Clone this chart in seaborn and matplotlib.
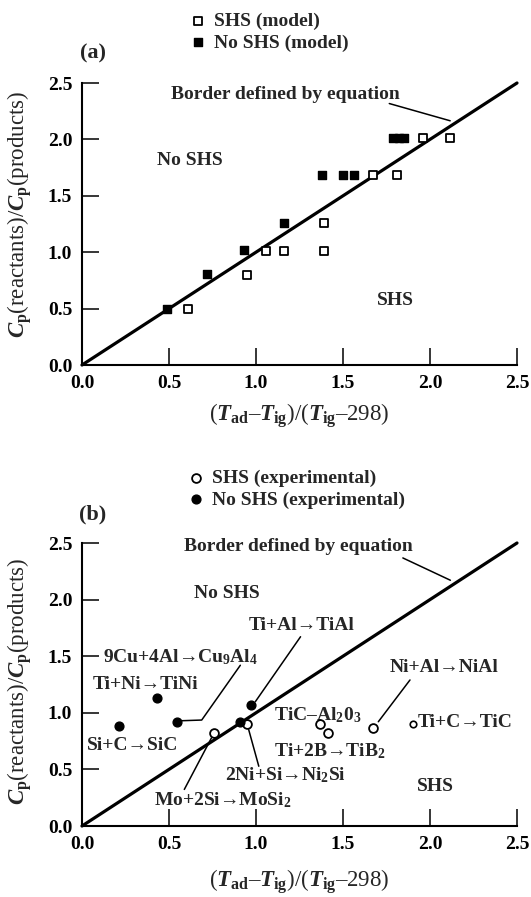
import matplotlib
matplotlib.use("Agg")
import matplotlib.pyplot as plt
import seaborn as sns

# ---------------- data ----------------
ticks = [0.0, 0.5, 1.0, 1.5, 2.0, 2.5]
tick_labels = ["0.0", "0.5", "1.0", "1.5", "2.0", "2.5"]
border_x = [0.0, 2.5]
border_y = [0.0, 2.5]

# panel (a): model
a_shs_x = [0.61, 0.95, 1.06, 1.16, 1.39, 1.39, 1.675, 1.81, 1.96, 2.115]
a_shs_y = [0.50, 0.80, 1.01, 1.01, 1.01, 1.26, 1.68, 1.68, 2.01, 2.01]
a_no_x = [0.49, 0.72, 0.93, 1.16, 1.38, 1.50, 1.565, 1.79, 1.82, 1.85]
a_no_y = [0.50, 0.81, 1.02, 1.26, 1.68, 1.68, 1.68, 2.01, 2.01, 2.01]

# panel (b): experimental
b_shs_x = [0.76, 0.95, 1.37, 1.415, 1.675]
b_shs_y = [0.82, 0.90, 0.905, 0.825, 0.865]
b_tic_x = [1.90]          # Ti+C -> TiC (small open circle)
b_tic_y = [0.905]
b_no_x = [0.21, 0.43, 0.545, 0.91, 0.97]
b_no_y = [0.885, 1.135, 0.92, 0.92, 1.07]

# annotation texts: (text, x, y, ha)
a_texts = [
    ("Border defined by equation", 1.17, 2.40, "center"),
    ("No SHS", 0.62, 1.81, "center"),
    ("SHS", 1.80, 0.57, "center"),
]
a_leaders = [([1.766, 2.116], [2.318, 2.165])]

b_texts = [
    ("Border defined by equation", 1.245, 2.465, "center"),
    ("No SHS", 0.83, 2.054, "center"),
    ("SHS", 2.03, 0.352, "center"),
    ("Ti+Al→TiAl", 1.26, 1.775, "center"),
    (r"9Cu+4Al→Cu$_{\mathbf{9}}$Al$_{\mathbf{4}}$", 0.12, 1.49, "left"),
    ("Ti+Ni→TiNi", 0.062, 1.247, "left"),
    ("Si+C→SiC", 0.029, 0.71, "left"),
    ("Ni+Al→NiAl", 1.766, 1.40, "left"),
    (r"TiC–Al$_{\mathbf{2}}$0$_{\mathbf{3}}$", 1.104, 0.98, "left"),
    ("Ti+C→TiC", 1.931, 0.91, "left"),
    (r"Ti+2B→TiB$_{\mathbf{2}}$", 1.104, 0.66, "left"),
    (r"2Ni+Si→Ni$_{\mathbf{2}}$Si", 0.822, 0.45, "left"),
    (r"Mo+2Si→MoSi$_{\mathbf{2}}$", 0.413, 0.23, "left"),
]
b_leaders = [
    ([1.844, 2.117], [2.368, 2.171]),
    ([1.256, 0.997], [1.672, 1.100]),
    ([0.573, 0.688, 0.91], [0.930, 0.936, 1.42]),
    ([1.885, 1.703], [1.290, 0.921]),
    ([0.958, 1.016], [0.851, 0.528]),
    ([0.744, 0.588], [0.778, 0.323]),
]

# ---------------- style ----------------
sns.set_style("ticks")
plt.rcParams["font.family"] = ["Liberation Serif", "DejaVu Serif"]
plt.rcParams["font.weight"] = "bold"
plt.rcParams["mathtext.fontset"] = "custom"
plt.rcParams["mathtext.rm"] = "Liberation Serif:bold"
plt.rcParams["mathtext.it"] = "Liberation Serif:italic:bold"
plt.rcParams["mathtext.bf"] = "Liberation Serif:bold"

FS = 14
LFS = 16.5
W, H = 531, 897
fig = plt.figure(figsize=(W / 100, H / 100), dpi=100)

ax_a = fig.add_axes([82 / W, 1 - 365 / H, 435 / W, 282 / H])
ax_b = fig.add_axes([82 / W, 1 - 826 / H, 435 / W, 283 / H])


def style_axes(ax):
    ax.set_xlim(0, 2.5)
    ax.set_ylim(0, 2.5)
    ax.set_xticks(ticks)
    ax.set_yticks(ticks)
    ax.set_xticklabels(tick_labels, fontweight="bold")
    ax.set_yticklabels(tick_labels, fontweight="bold")
    for s in ["top", "right"]:
        ax.spines[s].set_visible(False)
    for s in ["left", "bottom"]:
        ax.spines[s].set_linewidth(1.5)
        ax.spines[s].set_color("black")
    ax.tick_params(direction="in", length=12, width=1.1, colors="black",
                   labelsize=FS, pad=7)
    ax.set_facecolor("white")


def draw_border(ax):
    sns.lineplot(x=border_x, y=border_y, ax=ax, color="black", linewidth=2.3,
                 estimator=None, sort=False, legend=False)
    for ln in ax.lines:
        ln.set_clip_on(False)


XLAB = r"($T_{\mathbf{ad}}$–$T_{\mathbf{ig}}$)/($T_{\mathbf{ig}}$–298)"
YLAB = r"$C_{\mathbf{p}}$(reactants)/$C_{\mathbf{p}}$(products)"

# ---------------- panel (a) ----------------
draw_border(ax_a)
for lx, ly in a_leaders:
    sns.lineplot(x=lx, y=ly, ax=ax_a, color="black", linewidth=1.1,
                 estimator=None, sort=False, legend=False)
sns.scatterplot(x=a_shs_x, y=a_shs_y, ax=ax_a, marker="s", s=32,
                color="white", edgecolor="black", linewidth=1.3,
                label="SHS (model)", zorder=5)
sns.scatterplot(x=a_no_x, y=a_no_y, ax=ax_a, marker="s", s=32,
                color="black", edgecolor="black", linewidth=1.0,
                label="No SHS (model)", zorder=5)
for t, x, y, ha in a_texts:
    ax_a.text(x, y, t, ha=ha, va="center", fontsize=FS, fontweight="bold")
style_axes(ax_a)
ax_a.set_xlabel(XLAB, fontsize=LFS)
ax_a.set_ylabel(YLAB, fontsize=LFS)
ax_a.xaxis.set_label_coords(0.5, -0.13)
ax_a.yaxis.set_label_coords(-0.11, 0.535)
ax_a.text(0.025, 1.103, "(a)", transform=ax_a.transAxes, ha="center",
          va="center", fontsize=16, fontweight="bold")
ax_a.legend(loc="upper left", bbox_to_anchor=(188 / W, 1 - 12 / H),
            bbox_transform=fig.transFigure, frameon=False,
            prop={"size": FS, "weight": "bold"},
            borderpad=0, borderaxespad=0, handlelength=1.0,
            handletextpad=0.35, labelspacing=0.22)

# ---------------- panel (b) ----------------
draw_border(ax_b)
for lx, ly in b_leaders:
    sns.lineplot(x=lx, y=ly, ax=ax_b, color="black", linewidth=1.1,
                 estimator=None, sort=False, legend=False)
sns.scatterplot(x=b_shs_x, y=b_shs_y, ax=ax_b, marker="o", s=40,
                color="white", edgecolor="black", linewidth=1.3,
                label="SHS (experimental)", zorder=5)
sns.scatterplot(x=b_no_x, y=b_no_y, ax=ax_b, marker="o", s=40,
                color="black", edgecolor="black", linewidth=1.0,
                label="No SHS (experimental)", zorder=5)
sns.scatterplot(x=b_tic_x, y=b_tic_y, ax=ax_b, marker="o", s=22,
                color="white", edgecolor="black", linewidth=1.2,
                legend=False, zorder=5)
for t, x, y, ha in b_texts:
    ax_b.text(x, y, t, ha=ha, va="center", fontsize=FS, fontweight="bold")
style_axes(ax_b)
ax_b.set_xlabel(XLAB, fontsize=LFS)
ax_b.set_ylabel(YLAB, fontsize=LFS)
ax_b.xaxis.set_label_coords(0.5, -0.145)
ax_b.yaxis.set_label_coords(-0.11, 0.512)
ax_b.text(0.025, 1.099, "(b)", transform=ax_b.transAxes, ha="center",
          va="center", fontsize=16, fontweight="bold")
ax_b.legend(loc="upper left", bbox_to_anchor=(186 / W, 1 - 469 / H),
            bbox_transform=fig.transFigure, frameon=False,
            prop={"size": FS, "weight": "bold"},
            borderpad=0, borderaxespad=0, handlelength=1.0,
            handletextpad=0.35, labelspacing=0.22)

fig.savefig("out.png", dpi=100, facecolor="white")
